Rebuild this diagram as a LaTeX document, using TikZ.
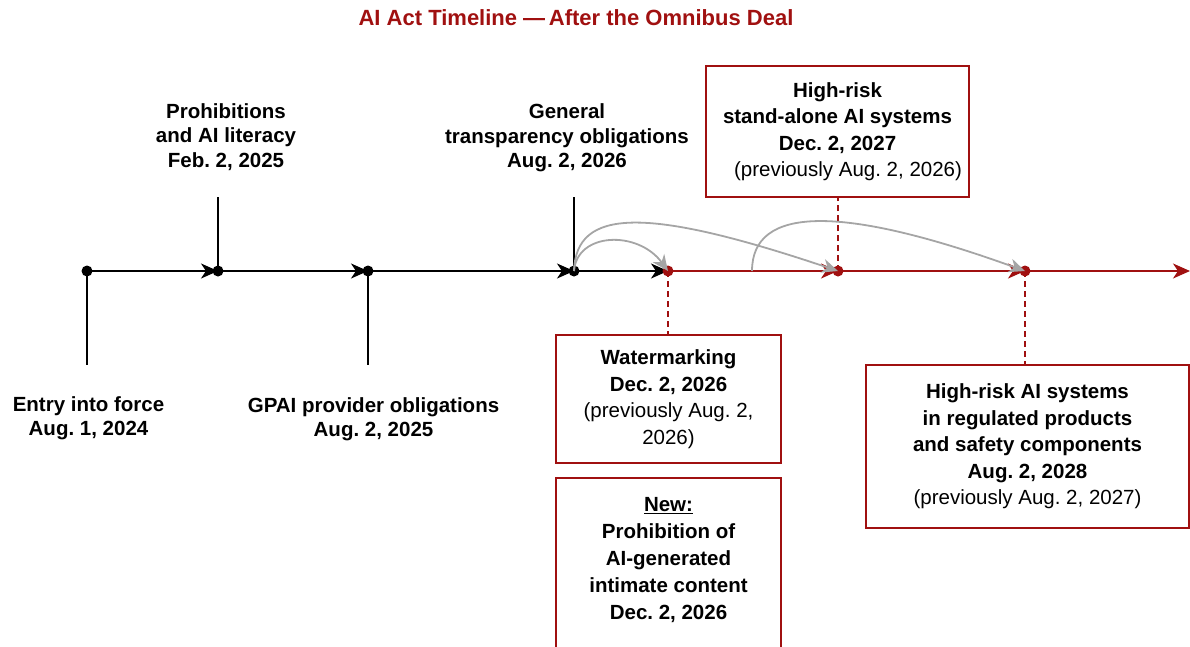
\documentclass[tikz,border=0pt]{standalone}
\usepackage{fontspec}
\setmainfont{Liberation Sans}
\usetikzlibrary{arrows.meta,backgrounds}
\definecolor{actred}{RGB}{160,16,16}
\definecolor{arcgray}{RGB}{165,165,165}
\frenchspacing
\begin{document}
\frenchspacing
\begin{tikzpicture}[x=1pt,y=-1pt,
  lbl/.style={font=\fontsize{20.5}{24.5}\selectfont\bfseries, align=center, inner sep=0},
  box/.style={draw=actred, line width=1.8pt, fill=white, inner sep=0, align=center,
              font=\fontsize{20.5}{26.5}\selectfont},
  dot/.style={circle, fill=black, inner sep=0, minimum size=11pt},
  rdot/.style={circle, fill=actred, inner sep=0, minimum size=11pt},
  seg/.style={line width=2pt, -{Stealth[length=17pt,width=15pt,inset=5pt]}},
  rseg/.style={seg, draw=actred, color=actred},
  tick/.style={line width=1.5pt},
  rdash/.style={draw=actred, line width=1.8pt, dash pattern=on 6pt off 4pt},
  arcarrow/.style={draw=arcgray, line width=1.8pt, -{Stealth[length=16pt,width=14pt,inset=5pt]}}
]
\useasboundingbox (0,0) rectangle (1190,646);

% title
\node[font=\fontsize{22}{26}\selectfont\bfseries, text=actred, inner sep=0] (title) at (576,18)
  {AI Act Timeline —\,After the Omnibus Deal};

% timeline dots
\node[dot] (d1) at (87,271) {};
\node[dot] (d2) at (218,271) {};
\node[dot] (d3) at (368,271) {};
\node[dot] (d4) at (574,271) {};
\node[rdot] (r1) at (668,271) {};
\node[rdot] (r2) at (838,271) {};
\node[rdot] (r3) at (1025,271) {};
\coordinate (tend) at (1190,271);
\coordinate (c3) at (752,271);

% tick ends
\coordinate (t1) at (87,365);
\coordinate (t2) at (218,197);
\coordinate (t3) at (368,365);
\coordinate (t4) at (574,197);

% labels
\node[lbl] (l2) at (226,137) {Prohibitions\\and AI literacy\\Feb. 2, 2025};
\node[lbl] (l4) at (567,138) {General\hspace{10pt}\\transparency obligations\\Aug. 2, 2026};
\node[lbl] (l1) at (88.5,418) {Entry into force\\Aug. 1, 2024};
\node[lbl] (l3) at (373.5,419) {GPAI provider obligations\\Aug. 2, 2025};

% boxes
\node[box, minimum width=263pt, minimum height=131pt] (hr) at (837.5,131.5)
  {\textbf{High-risk}\hspace{24pt}\\\textbf{stand-alone AI systems}\hspace{25pt}\\\textbf{Dec. 2, 2027}\\\hspace{21pt}(previously Aug. 2, 2026)};
\node[box, minimum width=225pt, minimum height=128pt] (wm) at (668.5,399)
  {\textbf{Watermarking}\\\textbf{Dec. 2, 2026}\\(previously Aug. 2,\\2026)};
\node[box, minimum width=225pt, minimum height=190pt] (nw) at (668.5,573) {};
\node[inner sep=0, align=center, font=\fontsize{20.5}{26.8}\selectfont\bfseries] (nwt) at (668.5,560)
  {\underline{New:}\\Prohibition of\\AI-generated\\intimate content\\Dec. 2, 2026};
\node[box, minimum width=323pt, minimum height=163pt] (rb) at (1027.5,446.5)
  {\textbf{High-risk AI systems}\\\textbf{in regulated products}\\\textbf{and safety components}\\\textbf{Aug. 2, 2028}\\(previously Aug. 2, 2027)};

\begin{pgfonlayer}{background}
  \draw[seg] (d1.center) -- (d2.center);
  \draw[seg] (d2.center) -- (d3.center);
  \draw[seg] (d3.center) -- (d4.center);
  \draw[seg] (d4.center) -- (r1.center);
  \draw[rseg] (r1.center) -- (r2.center);
  \draw[rseg] (r2.center) -- (r3.center);
  \draw[rseg] (r3.center) -- (tend);
  \draw[tick] (d1.center) -- (t1);
  \draw[tick] (d2.center) -- (t2);
  \draw[tick] (d3.center) -- (t3);
  \draw[tick] (d4.center) -- (t4);
  \draw[rdash] (r1.center) -- (r1.center |- wm.north);
  \draw[rdash] (r2.center) -- (r2.center |- hr.south);
  \draw[rdash] (r3.center) -- (r3.center |- rb.north);
\end{pgfonlayer}

% postponement arcs
\draw[arcarrow] (d4.center) .. controls (577,232) and (638,230) .. (r1.center);
\draw[arcarrow] (d4.center) .. controls (576,208) and (645,206) .. (r2.center);
\draw[arcarrow] (c3) .. controls (752,206) and (840,204) .. (r3.center);
\end{tikzpicture}
\end{document}
